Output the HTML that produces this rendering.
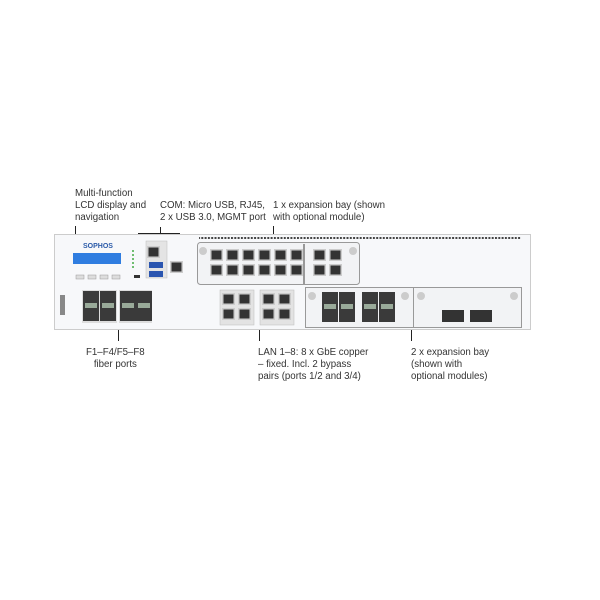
<!DOCTYPE html>
<html><head><meta charset="utf-8"><style>
body{margin:0;background:#fff;width:600px;height:600px;overflow:hidden;position:relative;font-family:"Liberation Sans",sans-serif}
.t{position:absolute;font-size:9.7px;line-height:12px;color:#333;white-space:nowrap}
</style></head><body>
<div class="t" style="left:75px;top:188px">Multi-function<br>LCD display and<br>navigation</div>
<div class="t" style="left:160px;top:200px">COM: Micro USB, RJ45,<br>2 x USB 3.0, MGMT port</div>
<div class="t" style="left:273px;top:200px">1 x expansion bay (shown<br>with optional module)</div>
<div class="t" style="left:86px;top:347px;text-align:center">F1–F4/F5–F8<br>fiber ports</div>
<div class="t" style="left:258px;top:347px">LAN 1–8: 8 x GbE copper<br>– fixed. Incl. 2 bypass<br>pairs (ports 1/2 and 3/4)</div>
<div class="t" style="left:411px;top:347px">2 x expansion bay<br>(shown with<br>optional modules)</div>
<svg width="600" height="600" style="position:absolute;left:0;top:0">
<defs>
<pattern id="dots" width="3.3" height="3" patternUnits="userSpaceOnUse"><rect width="2" height="2" fill="#444"/></pattern>
<g id="rj"><rect width="13" height="12" fill="#ccc"/><rect x="1.5" y="1.5" width="10" height="9" fill="#333"/></g>
<g id="sfp"><rect width="16" height="30" fill="#3a3a3a"/><rect x="2" y="12" width="12" height="5" fill="#9a9"/></g>
</defs>
<g stroke="#222" stroke-width="1" fill="none">
<line x1="75.5" y1="226" x2="75.5" y2="253"/>
<path d="M138.5 244 V233.5 H179.5 V262"/><line x1="160.5" y1="227" x2="160.5" y2="233"/>
<line x1="273.5" y1="226" x2="273.5" y2="242"/>
<line x1="118.5" y1="330" x2="118.5" y2="341"/>
<line x1="259.5" y1="330" x2="259.5" y2="341"/>
<line x1="411.5" y1="330" x2="411.5" y2="341"/>
</g>
<rect x="54.5" y="234.5" width="476" height="95" fill="#f7f8fa" stroke="#ccc"/>
<rect x="199" y="237" width="322" height="3" fill="url(#dots)"/>
<text x="83" y="248" font-size="7" font-weight="bold" fill="#2a5aa8">SOPHOS</text>
<rect x="73" y="253" width="48" height="11" fill="#2f7de0"/>
<rect x="76" y="275" width="8" height="4" fill="#ddd" stroke="#999" stroke-width=".5"/>
<rect x="88" y="275" width="8" height="4" fill="#ddd" stroke="#999" stroke-width=".5"/>
<rect x="100" y="275" width="8" height="4" fill="#ddd" stroke="#999" stroke-width=".5"/>
<rect x="112" y="275" width="8" height="4" fill="#ddd" stroke="#999" stroke-width=".5"/>
<g fill="#4a4"><circle cx="133" cy="251" r="1"/><circle cx="133" cy="255" r="1"/><circle cx="133" cy="259" r="1"/><circle cx="133" cy="263" r="1"/><circle cx="133" cy="267" r="1"/></g>
<rect x="134" y="275" width="6" height="3" fill="#333"/>
<rect x="146" y="241" width="21" height="37" fill="#e4e4e4" stroke="#bbb" stroke-width=".5"/>
<use href="#rj" x="147" y="246"/>
<rect x="149" y="262" width="14" height="6" fill="#2a55b0"/><rect x="149" y="271" width="14" height="6" fill="#2a55b0"/>
<use href="#rj" x="170" y="261"/>
<rect x="197.5" y="242.5" width="162" height="42" rx="3" fill="#f2f3f5" stroke="#999"/>
<rect x="303" y="244" width="2" height="40" fill="#999"/>
<g id="row">
<use href="#rj" x="210" y="249"/><use href="#rj" x="226" y="249"/><use href="#rj" x="242" y="249"/><use href="#rj" x="258" y="249"/><use href="#rj" x="274" y="249"/><use href="#rj" x="290" y="249"/>
<use href="#rj" x="313" y="249"/><use href="#rj" x="329" y="249"/>
</g>
<use href="#row" y="15"/>
<circle cx="203" cy="251" r="4" fill="#ccc"/><circle cx="353" cy="251" r="4" fill="#ccc"/>
<rect x="60" y="295" width="5" height="20" fill="#888"/>
<rect x="82" y="290" width="35" height="33" fill="#ddd"/><rect x="119" y="290" width="33" height="33" fill="#ddd"/>
<use href="#sfp" x="83" y="291"/><use href="#sfp" x="100" y="291"/><use href="#sfp" x="120" y="291"/><use href="#sfp" x="136" y="291"/>
<rect x="220" y="290" width="34" height="35" fill="#e3e3e3" stroke="#bbb" stroke-width=".5"/>
<rect x="260" y="290" width="34" height="35" fill="#e3e3e3" stroke="#bbb" stroke-width=".5"/>
<use href="#rj" x="222" y="293"/><use href="#rj" x="238" y="293"/><use href="#rj" x="222" y="308"/><use href="#rj" x="238" y="308"/>
<use href="#rj" x="262" y="293"/><use href="#rj" x="278" y="293"/><use href="#rj" x="262" y="308"/><use href="#rj" x="278" y="308"/>
<rect x="305.5" y="287.5" width="108" height="40" fill="#f2f3f5" stroke="#999"/>
<rect x="413.5" y="287.5" width="108" height="40" fill="#f2f3f5" stroke="#999"/>
<use href="#sfp" x="322" y="292"/><use href="#sfp" x="339" y="292"/><use href="#sfp" x="362" y="292"/><use href="#sfp" x="379" y="292"/>
<rect x="442" y="310" width="22" height="12" fill="#333"/><rect x="470" y="310" width="22" height="12" fill="#333"/>
<circle cx="312" cy="296" r="4" fill="#ccc"/><circle cx="405" cy="296" r="4" fill="#ccc"/><circle cx="421" cy="296" r="4" fill="#ccc"/><circle cx="514" cy="296" r="4" fill="#ccc"/>
</svg>
</body></html>
